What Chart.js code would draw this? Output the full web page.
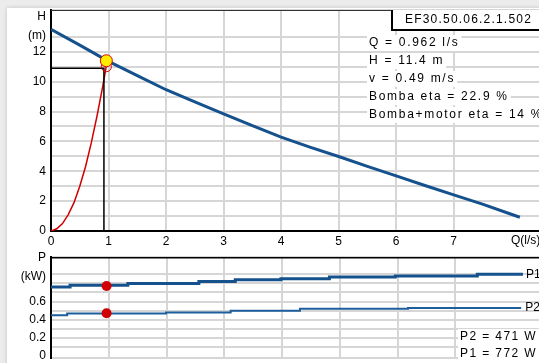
<!DOCTYPE html>
<html>
<head>
<meta charset="utf-8">
<script src="https://cdn.jsdelivr.net/npm/chart.js@4.4.1/dist/chart.umd.min.js"></script>
<style>
  html, body { margin: 0; padding: 0; width: 539px; height: 363px; overflow: hidden; background: #ececec; }
  #panel { position: absolute; left: 7px; top: 8px; width: 560px; height: 380px; background: #fff; box-shadow: 0 0 4px rgba(0,0,0,0.18); }
  #headChart { position: absolute; left: 0; top: 0; }
  #powerChart { position: absolute; left: 0; top: 252px; }
</style>
</head>
<body>
<div id="panel"></div>
<canvas id="headChart" width="547" height="250"></canvas>
<canvas id="powerChart" width="547" height="111"></canvas>
<script>
// pump curve H(Q)
const headQ = [0, 0.5, 1, 1.5, 2, 2.5, 3, 3.5, 4, 4.5, 5, 5.5, 6, 6.5, 7, 7.5, 8, 8.15];
const headH = [13.5, 12.45, 11.36, 10.4, 9.46, 8.65, 7.85, 7.05, 6.29, 5.62, 4.99, 4.33, 3.69, 3.05, 2.42, 1.8, 1.12, 0.92];

// system curve (red)
const systemQ = [0, 0.1, 0.2, 0.3, 0.4, 0.5, 0.6, 0.7, 0.8, 0.9, 0.96];
const systemH = [0, 0.15, 0.5, 1.1, 1.9, 3.0, 4.3, 5.9, 7.7, 9.7, 11.0];

// power curves (stepped)
const p1Q = [0, 0.33, 1.33, 2.56, 3.19, 3.98, 4.82, 5.96, 7.38, 8.17];
const p1P = [0.76, 0.78, 0.80, 0.82, 0.84, 0.85, 0.87, 0.88, 0.90, 0.90];
const p2Q = [0, 0.28, 1.99, 3.11, 4.31, 6.18, 8.14];
const p2P = [0.45, 0.47, 0.48, 0.50, 0.52, 0.53, 0.53];

// operating point
const opQ = 0.962;
const opH = 11.4;
const opSystemH = 11.0;
const opP1 = 0.772;
const opP2 = 0.471;
const markQ = 0.92;
const markH = 10.9;

const headLabels = [0, 2, 4, 6, 8, 10, 12];
const powerLabels = [0.2, 0.4, 0.6];
const modelName = "EF30.50.06.2.1.502";
const infoLines = ["Q = 0.962 l/s", "H = 11.4 m", "v = 0.49 m/s", "Bomba eta = 22.9 %", "Bomba+motor eta = 14 %"];
const powerInfo = ["P2 = 471 W", "P1 = 772 W"];

const blue = "#15518d";
const red = "#d00000";
const gridColor = "#d6d6d6";
const fontFamily = "'Liberation Sans', Arial, sans-serif";
const tickFont = { family: fontFamily, size: 12 };

const pts = (xs, ys) => xs.map((x, i) => ({ x: x, y: ys[i] }));

// keep the plot area exactly where we put it
const fixY = (s) => {
  s.width = 51;
  s.paddingTop = 0;
  s.paddingBottom = 0;
};

const labelText = (ctx, text, x, y, align) => {
  ctx.textAlign = align || "left";
  ctx.fillText(text, x, y);
};

const boxedText = (ctx, text, x, y) => {
  const w = ctx.measureText(text).width;
  ctx.fillStyle = "#fff";
  ctx.fillRect(x - 2, y - 8, w + 4, 16);
  ctx.fillStyle = "#000";
  ctx.textAlign = "left";
  ctx.fillText(text, x, y);
};

const headExtras = {
  id: "headExtras",
  afterDraw(chart) {
    const ctx = chart.ctx;
    const a = chart.chartArea;
    ctx.save();
    // top border of plot
    ctx.strokeStyle = "#333";
    ctx.lineWidth = 1;
    ctx.beginPath();
    ctx.moveTo(a.left, a.top + 0.5);
    ctx.lineTo(a.right, a.top + 0.5);
    ctx.stroke();

    ctx.font = "12px " + fontFamily;
    ctx.fillStyle = "#000";
    ctx.textBaseline = "middle";
    labelText(ctx, "H", 46, 17, "right");
    labelText(ctx, "(m)", 46, 36, "right");
    labelText(ctx, "Q(l/s)", 511, 241, "left");

    // model box
    ctx.fillStyle = "#fff";
    ctx.fillRect(391, 10, 160, 20);
    ctx.strokeStyle = "#000";
    ctx.lineWidth = 2;
    ctx.beginPath();
    ctx.moveTo(392, 10);
    ctx.lineTo(392, 30);
    ctx.lineTo(551, 30);
    ctx.stroke();
    ctx.fillStyle = "#000";
    ctx.letterSpacing = "1.2px";
    labelText(ctx, modelName, 405, 20, "left");

    ctx.letterSpacing = "1.7px";
    infoLines.forEach((t, i) => boxedText(ctx, t, 369, 43 + i * 18));
    ctx.restore();
  },
};

const powerExtras = {
  id: "powerExtras",
  afterDraw(chart) {
    const ctx = chart.ctx;
    const a = chart.chartArea;
    ctx.save();
    ctx.strokeStyle = "#000";
    ctx.lineWidth = 1.5;
    ctx.beginPath();
    ctx.moveTo(a.left, a.top + 0.75);
    ctx.lineTo(a.right, a.top + 0.75);
    ctx.stroke();

    ctx.font = "12px " + fontFamily;
    ctx.fillStyle = "#000";
    ctx.textBaseline = "middle";
    labelText(ctx, "P", 46, 6, "right");
    labelText(ctx, "(kW)", 46, 25, "right");
    labelText(ctx, "0", 46, 104, "right");

    const xs = chart.scales.x;
    const ys = chart.scales.y;
    labelText(ctx, "P1", xs.getPixelForValue(8.17) + 3, ys.getPixelForValue(0.90), "left");
    labelText(ctx, "P2", xs.getPixelForValue(8.14) + 4, ys.getPixelForValue(0.53), "left");

    ctx.letterSpacing = "1.4px";
    powerInfo.forEach((t, i) => boxedText(ctx, t, 460, 85 + i * 17));
    ctx.restore();
  },
};

const makeHeadChart = () => {
  const ctx = document.getElementById("headChart");
  const data = {
    datasets: [
      {
        data: [{ x: opQ, y: opH }],
        pointRadius: 6,
        pointBackgroundColor: "#ffee00",
        pointBorderColor: "#e00000",
        pointBorderWidth: 1,
        showLine: false,
      },
      {
        data: [{ x: opQ, y: opSystemH }],
        pointRadius: 5,
        pointBackgroundColor: "rgba(0,0,0,0)",
        pointBorderColor: red,
        pointBorderWidth: 1,
        showLine: false,
      },
      {
        data: pts(headQ, headH),
        borderColor: blue,
        borderWidth: 3,
        pointRadius: 0,
        showLine: true,
      },
      {
        data: [{ x: 0, y: markH }, { x: markQ, y: markH }, { x: markQ, y: 0 }],
        borderColor: "#000",
        borderWidth: 1.5,
        pointRadius: 0,
        showLine: true,
      },
      {
        data: pts(systemQ, systemH),
        borderColor: red,
        borderWidth: 1.5,
        pointRadius: 0,
        showLine: true,
      },
    ],
  };
  const config = {
    type: "scatter",
    data,
    options: {
      responsive: false,
      animation: false,
      layout: { padding: { top: 10, left: 0, right: 0, bottom: 0 } },
      plugins: { legend: { display: false }, tooltip: { enabled: false } },
      scales: {
        x: {
          type: "linear",
          min: 0,
          max: 8.5,
          afterFit: (s) => { s.height = 19; s.paddingLeft = 0; s.paddingRight = 0; },
          ticks: {
            stepSize: 1,
            autoSkip: false,
            maxRotation: 0,
            padding: 3,
            color: "#000",
            font: tickFont,
            callback: (v) => (Number.isInteger(v) && v < 8 ? v : ""),
          },
          grid: { color: gridColor, lineWidth: 2, drawTicks: false },
          border: { color: "#000", width: 2 },
        },
        y: {
          min: 0,
          max: 14.8,
          afterFit: fixY,
          ticks: {
            stepSize: 1,
            autoSkip: false,
            padding: 5,
            color: "#000",
            font: tickFont,
            callback: (v) => (headLabels.includes(v) ? v : ""),
          },
          grid: { color: gridColor, lineWidth: 2, drawTicks: false },
          border: { color: "#000", width: 2 },
        },
      },
    },
    plugins: [headExtras],
  };
  return new Chart(ctx, config);
};

const makePowerChart = () => {
  const ctx = document.getElementById("powerChart");
  const data = {
    datasets: [
      {
        data: [{ x: opQ, y: opP1 }, { x: opQ, y: opP2 }],
        pointRadius: 5,
        pointBackgroundColor: red,
        pointBorderColor: red,
        pointBorderWidth: 0,
        showLine: false,
      },
      {
        data: pts(p1Q, p1P),
        borderColor: blue,
        borderWidth: 3,
        pointRadius: 0,
        stepped: true,
        showLine: true,
      },
      {
        data: pts(p2Q, p2P),
        borderColor: "#1d5e9c",
        borderWidth: 2,
        pointRadius: 0,
        stepped: true,
        showLine: true,
      },
    ],
  };
  const config = {
    type: "scatter",
    data,
    options: {
      responsive: false,
      animation: false,
      layout: { padding: 0 },
      plugins: { legend: { display: false }, tooltip: { enabled: false } },
      scales: {
        x: {
          type: "linear",
          min: 0,
          max: 8.5,
          afterFit: (s) => { s.height = 0; s.paddingLeft = 0; s.paddingRight = 0; },
          ticks: { stepSize: 1, display: false },
          grid: { color: gridColor, lineWidth: 2, drawTicks: false },
          border: { display: false },
        },
        y: {
          min: -0.02,
          max: 1.09,
          afterFit: fixY,
          ticks: {
            stepSize: 0.1,
            autoSkip: false,
            padding: 5,
            color: "#000",
            font: tickFont,
            callback: (v) => {
              const r = Math.round(v * 10) / 10;
              return Math.abs(v - r) < 1e-6 && powerLabels.includes(r) ? r.toFixed(1) : "";
            },
          },
          grid: { color: gridColor, lineWidth: 2, drawTicks: false },
          border: { color: "#000", width: 2 },
        },
      },
    },
    plugins: [powerExtras],
  };
  return new Chart(ctx, config);
};

makeHeadChart();
makePowerChart();
</script>
</body>
</html>
